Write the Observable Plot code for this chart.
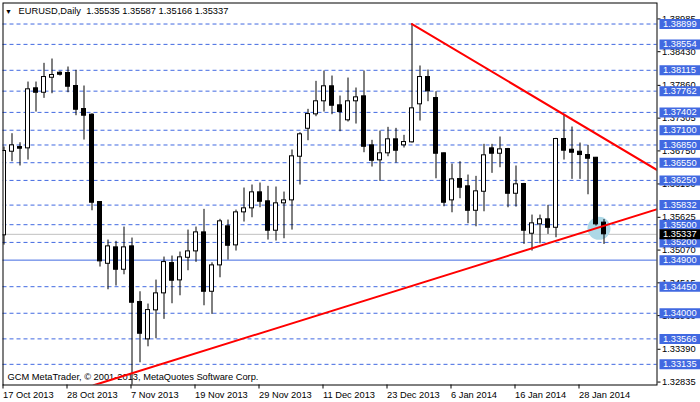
<!DOCTYPE html>
<html><head><meta charset="utf-8">
<script src="https://cdn.jsdelivr.net/npm/d3@7"></script>
<script src="https://cdn.jsdelivr.net/npm/@observablehq/plot@0.6"></script>
<style>html,body{margin:0;padding:0;background:#fff;} svg{display:block}</style>
</head><body><div id="chart"></div>
<script>
const symbolName = "EURUSD,Daily";
const copyright = "GCM MetaTrader, © 2001-2013, MetaQuotes Software Corp.";

const opens  = [1.35320,1.36736,1.36815,1.36793,1.37810,1.37735,1.37989,1.38074,1.38069,1.37849,
                1.37459,1.37363,1.35884,1.34838,1.35116,1.34737,1.35133,1.34190,1.33558,1.34049,
                1.34337,1.34850,1.34557,1.34940,1.35048,1.35370,1.34364,1.34811,1.35472,1.35150,
                1.35709,1.35777,1.36048,1.35896,1.35398,1.35862,1.35912,1.36651,1.37125,1.37369,
                1.37590,1.37844,1.37522,1.37268,1.37590,1.37674,1.36844,1.36590,1.36709,1.36946,
                1.36844,1.36895,1.37539,1.38001,1.37645,1.36709,1.35912,1.36273,1.36150,1.35736,
                1.36058,1.36793,1.36702,1.36781,1.36024,1.36189,1.35347,1.35506,1.35591,1.35448,
                1.36951,1.36770,1.36736,1.36680,1.36634,1.35535];
const highs  = [1.36815,1.37041,1.36888,1.37916,1.37916,1.38233,1.38306,1.38091,1.38171,1.38115,
                1.37849,1.37379,1.35890,1.35240,1.35218,1.35460,1.35274,1.34364,1.34156,1.34562,
                1.34952,1.34969,1.35037,1.35409,1.35460,1.35760,1.34855,1.35591,1.35579,1.35748,
                1.36121,1.36172,1.36206,1.36150,1.36138,1.36053,1.36765,1.37058,1.37454,1.37928,
                1.38103,1.38018,1.37679,1.37984,1.37815,1.38103,1.36929,1.37086,1.37149,1.37132,
                1.37014,1.38899,1.38188,1.38120,1.37752,1.36715,1.36527,1.36566,1.36341,1.36319,
                1.36861,1.36861,1.36985,1.36793,1.36494,1.36200,1.35663,1.35663,1.35828,1.36963,
                1.37369,1.37154,1.36883,1.36844,1.36640,1.35587];
const lows   = [1.35155,1.36566,1.36494,1.36595,1.37408,1.37640,1.37718,1.38018,1.37735,1.37346,
                1.36934,1.35736,1.34783,1.34398,1.34461,1.34652,1.32770,1.33161,1.33432,1.33568,
                1.33897,1.34161,1.34296,1.34720,1.34862,1.34127,1.33981,1.34601,1.34901,1.35054,
                1.35545,1.35618,1.35787,1.35240,1.35223,1.35262,1.35409,1.36172,1.36922,1.37329,
                1.37408,1.37363,1.37075,1.37239,1.37205,1.36719,1.36477,1.36234,1.36651,1.36544,
                1.36799,1.36883,1.37256,1.37583,1.36278,1.35804,1.35702,1.35940,1.35516,1.35465,
                1.35719,1.36370,1.36465,1.35787,1.35799,1.35167,1.35054,1.35177,1.35336,1.35279,
                1.36595,1.36268,1.36268,1.36007,1.35477,1.35166];
const closes = [1.36748,1.36844,1.36787,1.37793,1.37735,1.38001,1.38035,1.38040,1.37837,1.37447,
                1.37346,1.35872,1.34879,1.35133,1.34737,1.35116,1.34178,1.33653,1.34054,1.34337,
                1.34867,1.34551,1.34947,1.35048,1.35370,1.34364,1.34811,1.35557,1.35143,1.35709,
                1.35777,1.36048,1.35889,1.35398,1.35862,1.35912,1.36658,1.37031,1.37374,1.37590,
                1.37844,1.37515,1.37408,1.37590,1.37657,1.36820,1.36583,1.36709,1.36946,1.36753,
                1.36900,1.37471,1.38001,1.37759,1.36702,1.35872,1.36268,1.36126,1.35736,1.36065,
                1.36675,1.36702,1.36776,1.36024,1.36184,1.35398,1.35523,1.35591,1.35448,1.36951,
                1.36753,1.36719,1.36680,1.36617,1.35506,1.35337];

const tickBars   = [0, 8, 16, 24, 32, 40, 48, 56, 64, 72];
const tickLabels = ["17 Oct 2013","28 Oct 2013","7 Nov 2013","19 Nov 2013","29 Nov 2013",
                    "11 Dec 2013","23 Dec 2013","6 Jan 2014","16 Jan 2014","28 Jan 2014"];

const priceTicks = [1.38985,1.38430,1.37860,1.37305,1.36750,1.36190,1.35625,1.35070,
                    1.34515,1.33960,1.33390,1.32835];
const dashedLevels = [1.38899,1.38554,1.38115,1.37762,1.37402,1.37100,1.36850,1.36550,
                      1.36250,1.35832,1.35500,1.35200,1.34450,1.34000,1.33566,1.33135];
const solidLevel = [1.34900];
const currentPrice = [1.35337];

const upperTrendBars   = [51, 81.7];
const upperTrendPrices = [1.38899, 1.36420];
const lowerTrendBars   = [11.2, 81.7];
const lowerTrendPrices = [1.32780, 1.35765];
const highlightBar = [74.375];
const highlightPrice = [1.35438];

// build tables
const candles = opens.map((o, i) => ({i, open: o, high: highs[i], low: lows[i], close: closes[i]}));
const upperTrend = upperTrendBars.map((b, k) => ({bar: b, price: upperTrendPrices[k]}));
const lowerTrend = lowerTrendBars.map((b, k) => ({bar: b, price: lowerTrendPrices[k]}));
const highlight = highlightBar.map((b, k) => ({bar: b, price: highlightPrice[k]}));
const allLevels = [...dashedLevels, ...solidLevel].sort((a, b) => b - a);
const last = candles[candles.length - 1];
const f5 = d => d.toFixed(5);
const title = `${symbolName}  ${f5(last.open)} ${f5(last.high)} ${f5(last.low)} ${f5(last.close)}`;

const boxSymbol = {draw(ctx) { ctx.rect(-20.5, -5, 41, 10); }};
const blue = "#4169e1";

const chart = Plot.plot({
  width: 700, height: 402,
  marginLeft: 2.5, marginRight: 43.5, marginTop: 2.5, marginBottom: 17.5,
  style: {fontFamily: "'Liberation Sans', Arial, sans-serif", fontSize: "9.3px", background: "#fff", overflow: "visible", color: "#000"},
  x: {type: "linear", domain: [-0.125, 81.625]},
  y: {type: "linear", domain: [1.32785, 1.39255]},
  marks: [
    Plot.ruleY(dashedLevels, {y: d => d, stroke: blue, strokeWidth: 1, strokeDasharray: "4,3"}),
    Plot.ruleY(solidLevel, {y: d => d, stroke: blue, strokeWidth: 1}),
    Plot.ruleY(currentPrice, {y: d => d, stroke: "#c0c0c0", strokeWidth: 1}),
    Plot.dot(highlight, {x: "bar", y: "price", r: 11.5, fill: "#add8e6", stroke: "none"}),
    Plot.ruleX(candles, {x: "i", y1: "low", y2: "high", stroke: "#000", strokeWidth: 1, clip: true}),
    Plot.rect(candles, {x1: d => d.i - 0.25, x2: d => d.i + 0.25, y1: "open", y2: "close",
      fill: d => d.close >= d.open ? "#fff" : "#000", stroke: "#000", strokeWidth: 1, clip: true}),
    Plot.text([copyright], {frameAnchor: "bottom-left", dx: 4.5, dy: -7.5, lineAnchor: "middle", textAnchor: "start", fill: "#000"}),
    Plot.line(upperTrend, {x: "bar", y: "price", stroke: "#ff0000", strokeWidth: 2, clip: true}),
    Plot.line(lowerTrend, {x: "bar", y: "price", stroke: "#ff0000", strokeWidth: 2, clip: true}),
    Plot.frame({stroke: "#000", strokeWidth: 1}),
    Plot.axisX(tickBars, {anchor: "bottom", tickSize: 4, tickPadding: 2, textAnchor: "start", dx: -1,
      tickFormat: d => tickLabels[tickBars.indexOf(d)], label: null, fill: "#000"}),
    Plot.axisY(priceTicks, {anchor: "right", tickSize: 3, tickPadding: 2, tickFormat: f5, label: null, fill: "#000"}),
    Plot.dot(allLevels, {y: d => d, frameAnchor: "right", dx: 23, symbol: boxSymbol, r: 5, fill: blue, stroke: "none"}),
    Plot.text(allLevels, {y: d => d, text: f5, frameAnchor: "right", dx: 6, textAnchor: "start", fill: "#fff"}),
    Plot.dot(currentPrice, {y: d => d, frameAnchor: "right", dx: 23, symbol: boxSymbol, r: 5, fill: "#000", stroke: "none"}),
    Plot.text(currentPrice, {y: d => d, text: f5, frameAnchor: "right", dx: 6, textAnchor: "start", fill: "#fff"}),
    Plot.text(["▼"], {frameAnchor: "top-left", dx: 5.5, dy: 8.5, lineAnchor: "middle", textAnchor: "middle", fontSize: 7, fill: "#000"}),
    Plot.text([title], {frameAnchor: "top-left", dx: 15.5, dy: 8.5, lineAnchor: "middle", textAnchor: "start", fill: "#000"})
  ]
});
document.getElementById("chart").appendChild(chart);
</script>
</body></html>
